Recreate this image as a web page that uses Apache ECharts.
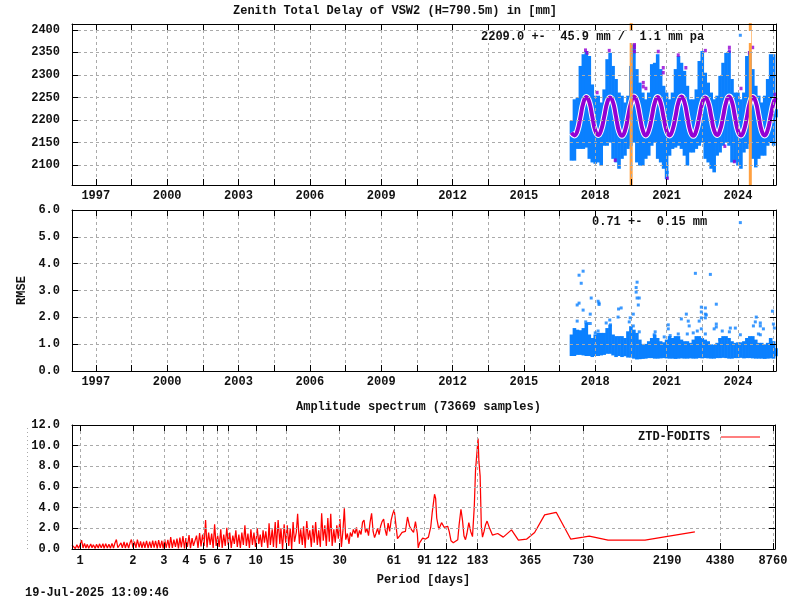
<!DOCTYPE html>
<html>
<head>
<meta charset="utf-8">
<title>ZTD VSW2</title>
<style>
html,body{margin:0;padding:0;background:#fff}
#chart{width:800px;height:600px}
</style>
<script src="https://cdn.jsdelivr.net/npm/echarts@6/dist/echarts.min.js"></script>
</head>
<body>
<div id="chart"></div>
<script>
// tick labels
var yearTicks = [1997,1998.5,2000,2001.5,2003,2004.5,2006,2007.5,2009,2010.5,2012,2013.5,2015,2016.5,2018,2019.5,2021,2022.5,2024,2025.5];
var yearLabels = [1997,2000,2003,2006,2009,2012,2015,2018,2021,2024];
var ztdTicks = [2100,2150,2200,2250,2300,2350,2400];
var periodTicks = [1,2,3,4,5,6,7,10,15,30,61,91,122,183,365,730,2190,4380,8760];

// columns of the ZTD and RMSE clouds, 8 per year
var bandYears = [
    2017,2017.125,2017.25,2017.375,2017.5,2017.625,2017.75,2017.875,
    2018,2018.125,2018.25,2018.375,2018.5,2018.625,2018.75,2018.875,
    2019,2019.125,2019.25,2019.375,2019.5,2019.625,2019.75,2019.875,
    2020,2020.125,2020.25,2020.375,2020.5,2020.625,2020.75,2020.875,
    2021,2021.125,2021.25,2021.375,2021.5,2021.625,2021.75,2021.875,
    2022,2022.125,2022.25,2022.375,2022.5,2022.625,2022.75,2022.875,
    2023,2023.125,2023.25,2023.375,2023.5,2023.625,2023.75,2023.875,
    2024,2024.125,2024.25,2024.375,2024.5,2024.625,2024.75,2024.875,
    2025,2025.125,2025.25,2025.375,2025.5,2025.6
];
var ztdHigh = [
    2198,2246,2250,2320,2346,2353,2342,2279,
    2254,2254,2239,2268,2335,2349,2320,2291,
    2261,2254,2239,2254,2320,2368,2313,2283,
    2261,2246,2261,2324,2327,2346,2313,2276,
    2261,2246,2261,2313,2342,2327,2309,2276,
    2246,2246,2268,2331,2353,2305,2283,2261,
    2246,2254,2298,2327,2349,2353,2291,2261,
    2261,2246,2261,2342,2353,2313,2276,2254,
    2239,2254,2291,2346,2346,2224
];
var ztdLow = [
    2110,2110,2136,2136,2136,2139,2114,2106,
    2103,2106,2099,2143,2143,2150,2114,2106,
    2092,2114,2121,2136,2143,2150,2106,2099,
    2099,2114,2121,2143,2150,2114,2106,2092,
    2069,2121,2136,2139,2143,2136,2121,2099,
    2128,2128,2136,2143,2150,2114,2106,2092,
    2084,2121,2128,2143,2150,2143,2106,2106,
    2099,2092,2128,2136,2147,2114,2095,2114,
    2121,2121,2143,2150,2143,2206
];
var ztdFit = [
    2172,2166,2176,2206,2238,2251,2240,2208,
    2177,2167,2178,2207,2238,2250,2239,2207,
    2175,2165,2176,2206,2237,2252,2241,2209,
    2177,2166,2177,2206,2238,2251,2238,2206,
    2176,2166,2178,2208,2240,2252,2240,2207,
    2175,2165,2177,2207,2238,2250,2239,2208,
    2177,2167,2178,2207,2239,2252,2240,2207,
    2176,2166,2177,2206,2238,2251,2240,2208,
    2176,2166,2178,2208,2239,2250
];
var ztdRejected = [
    [2017.59,2355],[2017.66,2349],[2018.59,2354],[2018.08,2261],[2019.65,2368],[2019.65,2361],[2019.65,2352],
    [2020.02,2283],[2020.02,2274],[2020.13,2270],[2020.65,2352],[2020.86,2316],[2020.86,2305],[2021.49,2344],
    [2021.81,2316],[2022.63,2354],[2023.64,2361],[2023.64,2353],[2023.45,2142],[2018.84,2111],[2021.03,2071],
    [2023.85,2108],[2024.13,2270],[2024.62,2361],[2024.48,2349],[2025.56,2257]
];
var ztdOutliers = [[2024.10,2388],[2021.03,2084]];
var eventYears = [2019.51,2024.52];

var rmseHigh = [
    1.36,1.6,1.54,1.52,1.6,1.79,1.36,1.23,
    1.36,1.42,1.42,1.42,1.6,1.73,1.36,1.3,
    1.3,1.3,1.23,1.48,1.67,1.54,1.42,1.17,
    1.01,1.01,1.11,1.23,1.36,1.23,1.11,1.07,
    1.17,1.3,1.23,1.3,1.3,1.17,1.11,1.11,
    1.05,1.17,1.3,1.3,1.23,1.17,1.11,0.99,
    0.98,1.05,1.23,1.3,1.3,1.23,1.11,1.05,
    1.07,1.07,1.11,1.23,1.3,1.3,1.17,1.05,
    1.05,0.99,1.05,1.23,1.11,0.85
];
var rmseLow = [
    0.56,0.56,0.6,0.6,0.58,0.56,0.56,0.52,
    0.56,0.56,0.58,0.6,0.64,0.64,0.58,0.52,
    0.56,0.52,0.55,0.5,0.5,0.46,0.43,0.44,
    0.45,0.46,0.48,0.48,0.46,0.46,0.47,0.48,
    0.47,0.46,0.46,0.45,0.46,0.47,0.46,0.46,
    0.47,0.46,0.46,0.48,0.47,0.48,0.47,0.46,
    0.46,0.48,0.48,0.49,0.48,0.46,0.46,0.48,
    0.48,0.49,0.47,0.48,0.48,0.47,0.46,0.46,
    0.46,0.45,0.46,0.47,0.46,0.55
];
var rmseOutliers = [
    [2024.10,5.53],[2017.49,3.72],[2017.32,3.57],[2017.41,3.27],[2022.21,3.64],[2022.84,3.60],[2019.76,3.31],
    [2019.72,3.11],[2019.72,2.94],[2019.76,2.72],[2019.85,2.72],[2019.81,2.46],[2017.83,2.72],[2018.12,2.60],
    [2018.16,2.53],[2018.16,2.48],[2017.24,2.46],[2017.32,2.53],[2017.49,2.27],[2017.79,2.12],[2017.24,1.86],
    [2018.98,2.31],[2019.09,2.35],[2018.96,2.01],[2019.60,2.12],[2019.47,1.98],[2019.43,1.83],[2018.61,1.90],
    [2018.46,1.79],[2018.64,1.72],[2017.60,1.83],[2017.69,1.77],[2017.79,1.77],[2023.09,2.49],[2022.46,2.38],
    [2022.63,2.35],[2022.46,2.20],[2022.63,2.12],[2022.67,2.09],[2022.63,1.98],[2022.37,1.86],[2022.46,1.98],
    [2021.83,2.12],[2021.62,1.94],[2021.91,1.86],[2021.95,1.68],[2021.07,1.72],[2021.07,1.57],[2023.09,1.75],
    [2023.09,1.64],[2023.00,1.57],[2023.34,1.49],[2023.68,1.60],[2023.89,1.60],[2023.64,1.46],[2024.77,2.01],
    [2024.73,1.83],[2024.94,1.79],[2024.94,1.68],[2024.65,1.68],[2025.07,1.57],[2024.86,1.38],[2024.94,1.35],
    [2025.45,2.23],[2025.49,1.75],[2025.53,1.60],[2020.52,1.46],[2020.48,1.35],[2020.90,1.27],[2018.00,1.42],
    [2018.12,1.49],[2019.60,1.68],[2019.85,1.46],[2022.46,1.57],[2022.29,1.49],[2022.12,1.42],[2022.63,1.38],
    [2021.87,1.38],[2021.49,1.38],[2021.15,1.32],[2024.10,1.35],[2023.24,1.17],[2025.61,0.70]
];

// amplitude spectrum
var periods = [
    0.90,0.94,0.96,0.98,1.00,1.02,1.04,1.06,1.08,1.10,
    1.12,1.15,1.17,1.19,1.22,1.24,1.27,1.29,1.32,1.35,
    1.37,1.40,1.43,1.46,1.49,1.52,1.55,1.58,1.61,1.64,
    1.68,1.71,1.74,1.78,1.81,1.85,1.89,1.93,1.96,2.00,
    2.04,2.08,2.12,2.17,2.21,2.25,2.30,2.34,2.39,2.44,
    2.49,2.54,2.59,2.64,2.69,2.75,2.80,2.86,2.92,2.97,
    3.03,3.09,3.16,3.22,3.28,3.35,3.42,3.49,3.56,3.63,
    3.70,3.77,3.85,3.93,4.00,4.08,4.17,4.25,4.34,4.42,
    4.51,4.60,4.69,4.79,4.88,4.98,5.08,5.18,5.28,5.39,
    5.50,5.61,5.72,5.83,5.95,6.07,6.19,6.32,6.44,6.57,
    6.70,6.84,6.97,7.11,7.25,7.40,7.55,7.70,7.85,8.01,
    8.17,8.33,8.50,8.67,8.84,9.02,9.20,9.38,9.57,9.76,
    9.96,10.2,10.4,10.6,10.8,11.0,11.2,11.4,11.7,11.9,
    12.1,12.4,12.6,12.9,13.1,13.4,13.7,13.9,14.2,14.5,
    14.8,15.1,15.4,15.7,16.0,16.3,16.6,17.0,17.3,17.7,
    18.0,18.4,18.7,19.1,19.5,19.9,20.3,20.7,21.1,21.5,
    21.9,22.4,22.8,23.3,23.7,24.2,24.7,25.2,25.7,26.2,
    26.7,27.2,27.8,28.3,28.9,29.5,30.1,30.7,31.3,31.9,
    32.5,33.2,33.9,34.5,35.2,35.9,36.7,37.4,38.1,38.9,
    39.7,40.5,41.3,42.1,42.9,43.8,44.7,45.6,46.5,47.4,
    48.3,49.3,50.3,51.3,52.3,53.4,54.4,55.5,56.6,57.8,
    58.9,60.1,61.3,64,66,68,71,73,75,77,
    79,81,83,84,85.5,89,92,96,99,101,
    104,105.5,107,110,114,118,123.5,126,129,133,
    141,143.5,147,150,153,156,159,163,167,171,
    175,178,182,184,186,189,192,195,199,203,
    207,214,222,238,256,285,312,347,386,395,
    440,512,620,730,790,1010,1640,2160,3150
];
var amplitudes = [
    0.38,0.05,0.40,0.08,0.42,0.86,0.10,0.55,0.10,0.45,
    0.08,0.48,0.12,0.42,0.06,0.45,0.10,0.50,0.12,0.52,
    0.06,0.50,0.10,0.46,0.08,0.55,0.10,0.58,0.92,0.12,
    0.08,0.60,0.12,0.68,0.10,0.62,0.08,0.66,0.92,0.14,
    0.72,0.10,0.90,0.15,0.74,0.10,0.70,0.12,0.78,0.08,
    0.72,0.10,0.82,0.14,0.78,0.06,0.86,0.12,0.80,0.05,
    0.96,0.12,0.88,0.08,1.15,0.10,0.90,0.20,1.00,0.05,
    1.10,0.15,1.25,0.05,1.05,0.20,1.35,0.08,1.05,0.30,
    0.20,1.30,0.10,1.55,0.25,1.40,0.30,2.80,0.15,1.60,
    0.40,1.50,0.10,2.40,0.30,1.30,0.20,1.90,0.10,1.40,
    0.30,2.05,0.40,1.60,0.10,1.30,0.50,1.80,0.20,1.40,
    0.10,1.60,0.40,2.30,0.30,1.50,0.10,1.90,0.40,1.60,
    0.20,2.00,0.50,1.40,0.20,1.80,0.60,1.70,0.10,2.50,
    0.40,1.90,0.20,2.60,0.10,2.80,0.50,2.00,0.00,2.40,
    0.60,2.30,0.30,2.00,0.00,2.60,0.70,1.60,3.40,0.50,
    1.90,0.40,2.20,0.10,2.70,0.90,1.80,0.20,2.30,0.60,
    2.60,0.40,1.80,0.20,3.45,0.80,2.30,0.30,3.00,0.70,
    3.40,0.30,1.90,0.60,2.30,1.00,2.90,0.20,1.70,3.95,
    0.90,1.50,0.50,1.60,1.20,1.90,1.50,2.10,1.10,1.80,
    1.40,2.60,2.80,1.60,2.00,1.30,2.60,3.45,1.70,1.10,
    1.50,2.00,1.40,2.20,2.65,2.90,1.90,1.30,2.50,1.70,
    2.80,3.40,3.80,1.00,1.30,1.60,1.70,3.10,2.20,1.85,
    1.60,2.65,1.50,0.10,0.60,1.05,0.95,1.15,2.15,3.60,
    5.30,4.90,3.00,1.90,2.55,2.10,2.20,1.70,0.80,0.60,
    0.90,2.35,3.85,2.80,1.25,0.90,1.50,2.55,1.70,1.20,
    4.05,7.70,9.70,10.70,8.50,7.05,2.20,1.15,1.70,2.35,
    2.70,2.00,1.35,1.50,1.15,1.85,0.85,0.95,1.60,1.70,
    3.30,3.55,0.95,1.15,1.25,0.85,0.85,1.20,1.65
];

var FONT = '"Liberation Mono"';
var GRID_COLOR = '#aaaaaa';
var BLUE = '#0a80ff';
var PURPLE = '#9400d3';
var ORANGE = '#ffa040';

function pairs(xs, ys){
    return xs.map(function(x, i){ return [x, ys[i]]; });
}
function triples(xs, lows, highs){
    return xs.map(function(x, i){ return [x, lows[i], highs[i]]; });
}
function stick(width, color){
    return function(params, api){
        var a = api.coord([api.value(0), api.value(1)]);
        var b = api.coord([api.value(0), api.value(2)]);
        return {
            type: 'rect',
            shape: {x: a[0] - width / 2, y: b[1], width: width, height: a[1] - b[1]},
            style: {fill: color}
        };
    };
}
function text(str, left, top, extra){
    var t = {
        text: str, left: left, top: top, padding: 0, itemGap: 0,
        textStyle: {fontFamily: FONT, fontWeight: 'bold', fontSize: 12, color: '#111'}
    };
    for (var k in extra) { t[k] = extra[k]; }
    return t;
}
// main axis plus a mirror on the opposite side, gnuplot style ticks on all four edges
function axisPair(gridIndex, isX, o){
    var main = {
        gridIndex: gridIndex, type: o.type || 'value', min: o.min, max: o.max, interval: o.interval,
        z: 5, silent: true,
        position: isX ? 'bottom' : 'left',
        axisLine: {show: true, onZero: false, lineStyle: {color: '#000', width: 1}},
        axisTick: {show: true, inside: true, length: 6, lineStyle: {color: '#000', width: 1}},
        axisLabel: {show: true, margin: o.margin, fontFamily: FONT, fontWeight: 'bold', fontSize: 12, color: '#111', formatter: o.formatter},
        splitLine: {show: true, lineStyle: {color: GRID_COLOR, type: [3, 3], width: 1}},
        minorTick: {show: false},
        minorSplitLine: {show: false}
    };
    if (o.ticks) { main.axisTick.customValues = o.ticks; }
    if (o.labels) { main.axisLabel.customValues = o.labels; }
    if (o.name) {
        main.name = o.name;
        main.nameLocation = 'middle';
        main.nameGap = o.nameGap;
        main.nameRotate = o.nameRotate;
        main.nameTextStyle = {fontFamily: FONT, fontWeight: 'bold', fontSize: 12, color: '#111'};
    }
    var mirror = JSON.parse(JSON.stringify(main));
    mirror.position = isX ? 'top' : 'right';
    mirror.axisLabel = {show: false};
    mirror.splitLine = {show: false};
    delete mirror.name;
    return [main, mirror];
}

var yearAxis = {min: 1996, max: 2025.6, ticks: yearTicks, labels: yearLabels, margin: 5,
    formatter: function(v){ return String(Math.round(v)); }};
var oneDecimal = function(v){ return v.toFixed(1); };

var xAxes = axisPair(0, true, yearAxis)
    .concat(axisPair(1, true, yearAxis))
    .concat(axisPair(2, true, {type: 'log', min: 0.9, max: 9000, ticks: periodTicks, labels: periodTicks, margin: 6,
        name: 'Period [days]', nameGap: 25,
        formatter: function(v){ return String(Math.round(v)); }}));
var yAxes = axisPair(0, false, {min: 2056, max: 2413, ticks: ztdTicks, labels: ztdTicks, margin: 12,
        formatter: function(v){ return String(Math.round(v)); }})
    .concat(axisPair(1, false, {min: 0, max: 6, interval: 1, margin: 12, name: 'RMSE', nameGap: 30, nameRotate: 90, formatter: oneDecimal}))
    .concat(axisPair(2, false, {min: 0, max: 12, interval: 2, margin: 12, formatter: oneDecimal}));

var eventBars = eventYears.map(function(y){ return [y, 2056, 2415]; });

var option = {
    animation: false,
    backgroundColor: '#fff',
    title: [
        text('Zenith Total Delay of VSW2 (H=790.5m) in [mm]', 233, 5),
        text('2209.0 +-  45.9 mm /  1.1 mm pa', 481, 31, {padding: [0, 47, 0, 0], backgroundColor: '#fff'}),
        text('0.71 +-  0.15 mm', 592, 216, {padding: [0, 47, 0, 0], backgroundColor: '#fff'}),
        text('Amplitude spectrum (73669 samples)', 296, 401),
        text('19-Jul-2025 13:09:46', 25, 587)
    ],
    grid: [
        {left: 72, top: 24, width: 704, height: 161},
        {left: 72, top: 210, width: 704, height: 161},
        {left: 72, top: 425, width: 703, height: 124}
    ],
    legend: {
        data: [{name: 'ZTD-FODITS', icon: 'path://M0 0H39V1H0Z'}],
        right: 40, top: 431, align: 'right', padding: 0,
        itemWidth: 39, itemHeight: 1,
        textStyle: {fontFamily: FONT, fontWeight: 'bold', fontSize: 12, color: '#111', padding: [0, 6, 0, 0]}
    },
    xAxis: xAxes,
    yAxis: yAxes,
    graphic: [{
        type: 'line', silent: true,
        shape: {x1: 27.5, y1: 428, x2: 27.5, y2: 549},
        style: {stroke: GRID_COLOR, lineWidth: 1, lineDash: [1, 3]}
    }],
    series: [
        {
            type: 'custom', xAxisIndex: 0, yAxisIndex: 0, z: 2,
            renderItem: stick(3.6, BLUE), encode: {x: 0, y: [1, 2]},
            data: triples(bandYears, ztdLow, ztdHigh)
        },
        {
            type: 'scatter', xAxisIndex: 0, yAxisIndex: 0, z: 7, symbol: 'rect', symbolSize: 3,
            itemStyle: {color: BLUE}, data: ztdOutliers
        },
        {
            type: 'line', xAxisIndex: 0, yAxisIndex: 0, z: 3, smooth: true, showSymbol: false,
            lineStyle: {color: '#fff', width: 6}, data: pairs(bandYears, ztdFit)
        },
        {
            type: 'line', xAxisIndex: 0, yAxisIndex: 0, z: 3, smooth: true, showSymbol: false,
            lineStyle: {color: PURPLE, width: 4}, data: pairs(bandYears, ztdFit)
        },
        {
            type: 'scatter', xAxisIndex: 0, yAxisIndex: 0, z: 3, symbol: 'rect', symbolSize: [3, 3.5],
            itemStyle: {color: PURPLE}, data: ztdRejected
        },
        {
            type: 'custom', xAxisIndex: 0, yAxisIndex: 0, z: 4, clip: false,
            renderItem: stick(3, ORANGE), encode: {x: 0, y: [1, 2]},
            data: eventBars
        },
        {
            type: 'custom', xAxisIndex: 2, yAxisIndex: 2, z: 2,
            renderItem: stick(3.6, BLUE), encode: {x: 0, y: [1, 2]},
            data: triples(bandYears, rmseLow, rmseHigh)
        },
        {
            type: 'scatter', xAxisIndex: 2, yAxisIndex: 2, z: 7, symbol: 'rect', symbolSize: 3,
            itemStyle: {color: BLUE}, data: rmseOutliers
        },
        {
            name: 'ZTD-FODITS', type: 'line', xAxisIndex: 4, yAxisIndex: 4, z: 2, showSymbol: false,
            lineStyle: {color: '#ff0000', width: 1.25}, itemStyle: {color: '#ff0000'},
            data: pairs(periods, amplitudes)
        }
    ]
};

var myChart = echarts.init(document.getElementById('chart'));
myChart.setOption(option);
</script>
</body>
</html>
